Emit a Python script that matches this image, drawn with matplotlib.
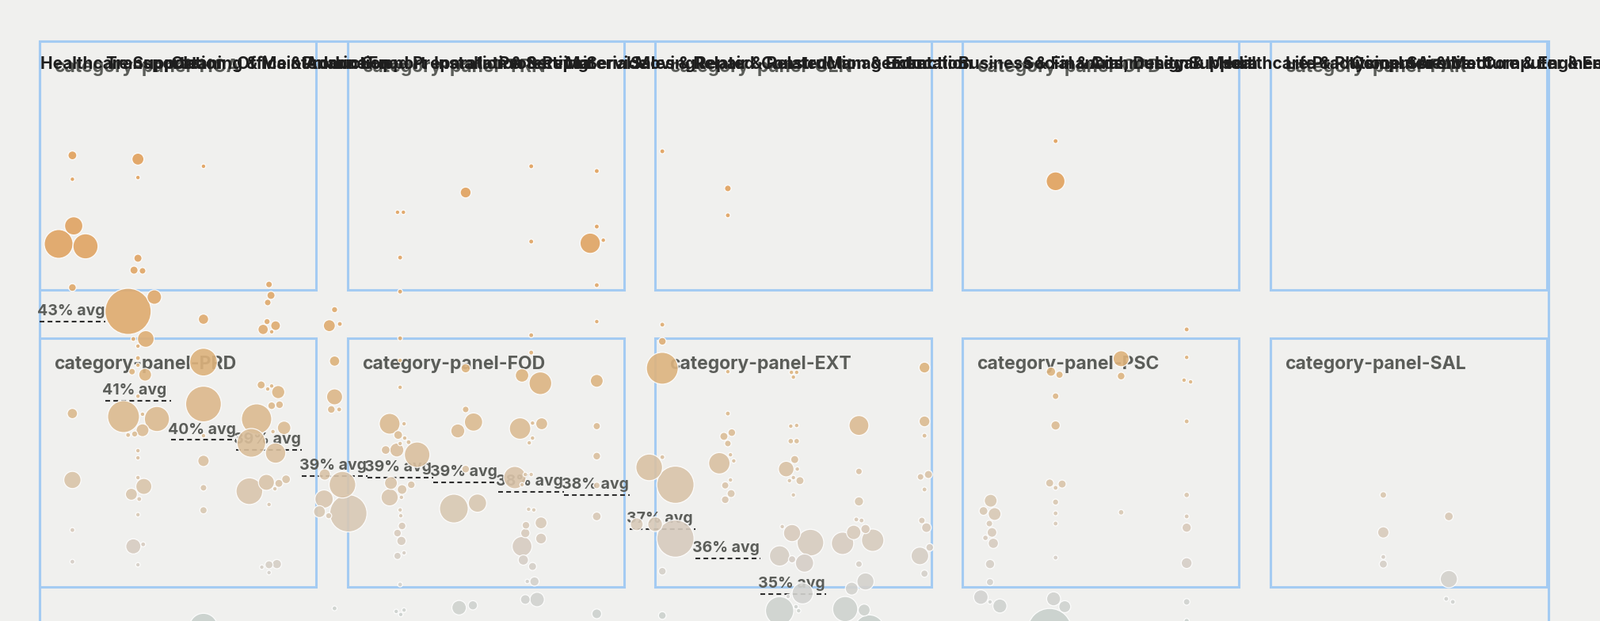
import numpy as np
import matplotlib
matplotlib.use("Agg")
import matplotlib.pyplot as plt
from matplotlib.patches import Rectangle
from matplotlib.colors import to_rgb

plt.rcParams['lines.scale_dashes'] = False

# header labels, one per column (left aligned at the column start)
header_labels = [
    "Healthcare Support", "Transportation", "Cleaning & Maintenance", "Office & Admin Support",
    "Production", "Food Preparation & Serving", "Installation & Repair", "Protective Service",
    "Material Moving", "Sales & Related", "Repair & Related", "Construction & Extraction",
    "Management", "Education", "Business & Financial", "Social & Community Support",
    "Arts, Design & Media", "Legal", "Healthcare Practitioners", "Life & Physical Science",
    "Computer & Math", "Architecture & Engineering", "Computer & Engineering",
]

panel_codes = [["HCA", "TRN", "CLN", "OPD", "FAR"],
               ["PRD", "FOD", "EXT", "PSC", "SAL"]]

# column averages (first 12 columns)
avg_values = [43.00, 40.68, 39.53, 39.24, 38.47, 38.42, 38.28, 38.01, 37.91, 36.91, 36.05, 35.00]
avg_labels = [43, 41, 40, 39, 39, 39, 39, 38, 38, 37, 36, 35]

# bubbles: column, offset inside column, share (%), size
bub_col = (
    [0] * 10 + [1] * 31 + [2] * 9 + [3] * 28 + [4] * 14 + [5] * 32 + [6] * 10 + [7] * 28
    + [8] * 12 + [9] * 12 + [10] * 14 + [11] * 25 + [12] * 15 + [13] * 11 + [14] * 12
    + [15] * 16 + [16] * 3 + [17] * 11 + [20] * 4 + [21] * 4
)
bub_dx = [
    # col 0
    0, 0, .02, -.21, .20, 0, 0, 0, 0, 0,
    # col 1
    0, 0, 0, -.06, .07, .25, -.15, -.07, .12, 0, 0, 0, -.09, .11, 0, .07, -.22, .29, .07, -.15,
    -.05, 0, 0, 0, .09, -.10, .02, 0, -.07, .08, 0,
    # col 2
    0, 0, 0, 0, 0, 0, 0, 0, 0,
    # col 3
    0, .03, -.02, -.03, .10, -.09, .04, -.12, .04, -.02, .14, .04, .16, -.19, .23, .06, -.27, .10,
    -.30, -.04, .15, .26, .09, 0, 0, .12, -.11, 0,
    # col 4
    0, -.08, .08, 0, 0, -.05, .07, -.15, .12, -.16, .21, -.23, -.09, 0,
    # col 5
    -.04, .05, 0, 0, 0, 0, 0, -.16, .06, -.03, 0, .07, .13, -.05, .26, -.22, -.14, .03, .17, -.16,
    .02, 0, .01, .03, -.04, .02, .06, -.04, 0, -.06, .06, .01,
    # col 6
    0, 0, 0, .12, -.12, 0, -.18, .18, -.10, .11,
    # col 7
    0, 0, 0, 0, -.14, .14, .02, -.17, .16, .02, -.03, -.09, 0, -.25, -.14, -.04, .04, -.08, -.09,
    .15, .15, -.14, -.12, .02, -.06, .05, -.09, .09,
    # col 8
    0, 0, -.10, .10, 0, 0, 0, 0, 0, 0, 0, 0,
    # col 9
    0, 0, 0, 0, 0, -.20, .20, -.39, -.11, .20, 0, 0,
    # col 10
    0, 0, 0, 0, .06, -.06, 0, .04, .09, -.13, .04, -.04, .05, -.04,
    # col 11
    -.03, .05, 0, -.04, .05, -.04, .05, .02, -.11, .06, 0, -.06, .10, 0, -.17, -.02, .26, -.21,
    .17, -.02, .14, -.21, -.08, .04, .08,
    # col 12
    0, 0, 0, -.04, .04, -.08, .10, -.25, .21, 0, .10, -.11, -.21, .08, .16,
    # col 13
    0, 0, 0, -.06, .06, 0, -.04, .03, .08, -.07, 0,
    # col 14
    .01, -.10, .07, -.01, .03, -.07, .05, 0, 0, -.14, 0, .15,
    # col 15
    0, 0, -.07, .06, 0, 0, -.09, .10, 0, 0, 0, 0, 0, -.03, .14, -.09,
    # col 16
    0, 0, 0,
    # col 17
    0, 0, -.04, .06, 0, 0, 0, 0, 0, 0, 0,
    # col 20
    0, 0, 0, 0,
    # col 21
    0, 0, -.04, .06,
]
bub_pct = [
    # col 0
    47.88, 47.18, 45.81, 45.28, 45.21, 44.00, 40.30, 38.35, 36.88, 35.95,
    # col 1
    47.77, 47.23, 44.86, 44.51, 44.49, 43.72, 43.30, 42.49, 42.49, 42.28, 41.93, 41.72, 41.53,
    41.44, 40.81, 40.28, 40.21, 40.14, 39.81, 39.67, 39.70, 39.21, 39.00, 38.42, 38.16, 37.93,
    37.79, 37.33, 36.40, 36.46, 35.86,
    # col 2
    47.56, 43.07, 41.81, 40.58, 39.65, 38.91, 38.12, 37.46, 34.02,
    # col 3
    44.09, 43.77, 43.56, 43.00, 42.88, 42.77, 42.70, 41.14, 41.11, 41.02, 40.93, 40.53, 40.56,
    40.14, 39.88, 39.77, 39.44, 39.14, 38.02, 38.28, 38.25, 38.37, 38.09, 37.63, 35.86, 35.88,
    35.79, 35.63,
    # col 4
    43.35, 42.88, 42.93, 41.84, 40.79, 40.42, 40.42, 38.51, 38.21, 37.79, 37.37, 37.42, 37.30, 34.58,
    # col 5
    46.21, 46.21, 44.88, 43.88, 42.51, 41.86, 41.07, 40.00, 40.00, 39.67, 39.42, 39.58, 39.46,
    39.23, 39.09, 39.23, 38.26, 38.07, 38.21, 37.84, 37.84, 37.47, 37.30, 37.00, 36.79, 36.56,
    36.21, 36.12, 35.28, 34.49, 34.53, 34.40,
    # col 6
    46.79, 41.63, 40.42, 40.05, 39.79, 38.67, 37.51, 37.67, 34.60, 34.67,
    # col 7
    47.56, 45.35, 42.60, 42.09, 41.42, 41.19, 40.02, 39.86, 40.00, 39.58, 39.44, 38.51, 38.51,
    38.42, 38.21, 37.49, 37.47, 37.02, 36.79, 37.09, 36.63, 36.40, 36.00, 35.81, 35.37, 35.37,
    34.84, 34.84,
    # col 8
    47.42, 45.79, 45.30, 45.39, 44.07, 43.00, 41.26, 39.93, 39.05, 38.19, 37.28, 34.42,
    # col 9
    48.00, 42.91, 42.42, 41.63, 39.02, 38.72, 38.21, 37.05, 37.05, 36.63, 35.67, 34.37,
    # col 10
    46.91, 46.12, 41.53, 40.30, 39.74, 39.63, 39.42, 39.09, 38.91, 38.84, 38.35, 38.19, 37.95, 37.77,
    # col 11
    41.51, 41.51, 41.37, 39.93, 39.95, 39.49, 39.49, 38.95, 38.67, 38.67, 38.42, 38.33, 38.33,
    37.91, 36.98, 36.79, 36.51, 36.12, 35.91, 36.02, 35.02, 34.51, 34.93, 34.63, 34.51,
    # col 12
    39.95, 38.60, 37.72, 37.19, 37.16, 36.81, 36.91, 36.49, 36.58, 35.88, 35.37, 35.16, 34.56,
    34.53, 33.95,
    # col 13
    41.65, 40.07, 39.65, 38.44, 38.51, 38.07, 37.16, 36.95, 36.37, 36.12, 35.60,
    # col 14
    37.74, 37.44, 37.35, 37.07, 36.81, 36.65, 36.49, 35.88, 35.35, 34.91, 34.77, 34.65,
    # col 15
    48.30, 47.12, 41.53, 41.44, 40.81, 39.95, 38.26, 38.23, 38.12, 37.70, 37.37, 37.07, 36.07,
    34.86, 34.63, 33.93,
    # col 16
    41.91, 41.40, 37.40,
    # col 17
    42.77, 41.95, 41.28, 41.23, 40.07, 37.91, 37.28, 36.95, 35.91, 34.77, 34.21,
    # col 20
    37.91, 36.81, 36.09, 35.88,
    # col 21
    37.28, 35.44, 34.86, 34.77,
]
bub_size = [
    # col 0
    22, 4, 114, 300, 225, 16, 32, 100, 5, 5,
    # col 1
    45, 4, 18, 18, 11, 69, 800, 5, 94, 4, 5, 4, 11, 53, 4, 4, 372, 225, 53, 5, 9, 4, 4, 4, 86,
    45, 5, 4, 76, 5, 4,
    # col 2
    4, 32, 279, 471, 4, 40, 11, 14, 289,
    # col 3
    11, 18, 11, 9, 28, 32, 4, 18, 4, 4, 56, 16, 16, 335, 59, 4, 300, 144, 256, 86, 18, 22, 4, 4,
    18, 25, 4, 4,
    # col 4
    9, 45, 5, 32, 86, 16, 5, 40, 256, 114, 515, 45, 9, 5,
    # col 5
    4, 4, 5, 5, 5, 4, 4, 151, 4, 22, 4, 4, 5, 64, 234, 22, 53, 28, 16, 100, 4, 4, 4, 16, 16, 25,
    4, 14, 5, 4, 4, 4,
    # col 6
    36, 25, 11, 114, 64, 16, 300, 114, 69, 25,
    # col 7
    5, 5, 5, 5, 59, 182, 4, 161, 45, 4, 4, 4, 4, 177, 4, 4, 4, 16, 25, 45, 36, 137, 32, 18, 4, 25,
    28, 69,
    # col 8
    5, 5, 144, 4, 5, 4, 53, 14, 16, 11, 22, 28,
    # col 9
    5, 5, 16, 372, 5, 256, 515, 53, 72, 515, 16, 16,
    # col 10
    11, 5, 4, 5, 16, 18, 11, 4, 4, 161, 4, 14, 18, 16,
    # col 11
    4, 4, 4, 4, 4, 7, 7, 18, 81, 4, 4, 4, 18, 4, 4, 100, 256, 144, 114, 14, 156, 289, 4, 4, 4,
    # col 12
    137, 11, 25, 5, 5, 69, 25, 177, 177, 11, 100, 53, 225, 45, 324,
    # col 13
    36, 36, 5, 11, 18, 5, 11, 28, 16, 106, 14,
    # col 14
    53, 22, 53, 11, 28, 7, 32, 25, 14, 69, 4, 64,
    # col 15
    5, 121, 25, 14, 11, 25, 18, 18, 5, 9, 5, 5, 5, 64, 45, 729,
    # col 16
    86, 16, 7,
    # col 17
    5, 4, 4, 4, 5, 7, 5, 25, 36, 11, 6,
    # col 20
    11, 40, 5, 18,
    # col 21
    22, 100, 5, 5,
]

# colour ramp by share: orange at the top, grey at the bottom
ramp_pct = [34.0, 35.0, 36.0, 37.0, 38.5, 40.0, 41.5, 43.0, 45.0, 48.0]
ramp_col = ["#c8d0cc", "#d3d3d0", "#d6cec6", "#d8cab9", "#d9c3a7", "#dbbb92",
            "#ddb47f", "#dfab6f", "#e0a463", "#e1a15b"]

bg = "#f0f0ee"
blue = "#a4cbf2"

fig = plt.figure(figsize=(20.2, 7.84), dpi=100)
fig.patch.set_facecolor(bg)

# layout layer (pixel space)
lay = fig.add_axes([0, 0, 1, 1])
lay.set_xlim(0, 2020)
lay.set_ylim(784, 0)
lay.axis("off")

lay.add_patch(Rectangle((50, 52), 1905, 800, fill=False, ec=blue, lw=2.2))
panel_x = [50, 439, 827, 1215, 1604]
panel_y = [52, 427]
for r, py in enumerate(panel_y):
    for c, px in enumerate(panel_x):
        lay.add_patch(Rectangle((px, py), 349, 314, fill=False, ec=blue, lw=2.2))
        lay.text(px + 18, py + 39, "category-panel-" + panel_codes[r][c], fontsize=16.5,
                 family="Inter", fontweight="bold", color="#5b5d59", va="baseline")

for i, lab in enumerate(header_labels):
    lay.text(51 + 82.75 * i, 87, lab, fontsize=15, family="Inter", fontweight="bold",
             color="#1e1e1e", va="baseline", ha="left")

# data layer
ax = fig.add_axes([0, 0, 1, 1])
ax.set_xlim(-1.1045, 23.306)
ax.set_ylim(34.209, 52.442)
ax.axis("off")
ax.patch.set_alpha(0)

for i, (a, lab) in enumerate(zip(avg_values, avg_labels)):
    ax.plot([i - 0.5, i + 0.5], [a, a], color="#2e2e2e", lw=1.5, linestyle=(0, (4.3, 3.0)),
            zorder=2)
    ax.annotate(f"{lab}% avg", (i - 0.5, a), xytext=(-2.5, 5.5), textcoords="offset points",
                fontsize=14, family="Inter", fontweight="bold", color="#5b5d59",
                ha="left", va="baseline", zorder=2)

x = np.array(bub_col) + np.array(bub_dx)
y = np.array(bub_pct)
rgb = np.array([to_rgb(c) for c in ramp_col])
colors = np.column_stack([np.interp(y, ramp_pct, rgb[:, k]) for k in range(3)])
# marker diameter in points: circle area from size, plus the white rim
diam_pt = (2 * np.sqrt(np.array(bub_size)) + 1.6) * 0.72
order = np.argsort(-np.array(bub_size))
ax.scatter(x[order], y[order], s=diam_pt[order] ** 2, c=colors[order],
           alpha=0.9, edgecolors="white", linewidths=0.9, zorder=3, clip_on=False)

fig.savefig("out.png", dpi=100, facecolor=bg)
